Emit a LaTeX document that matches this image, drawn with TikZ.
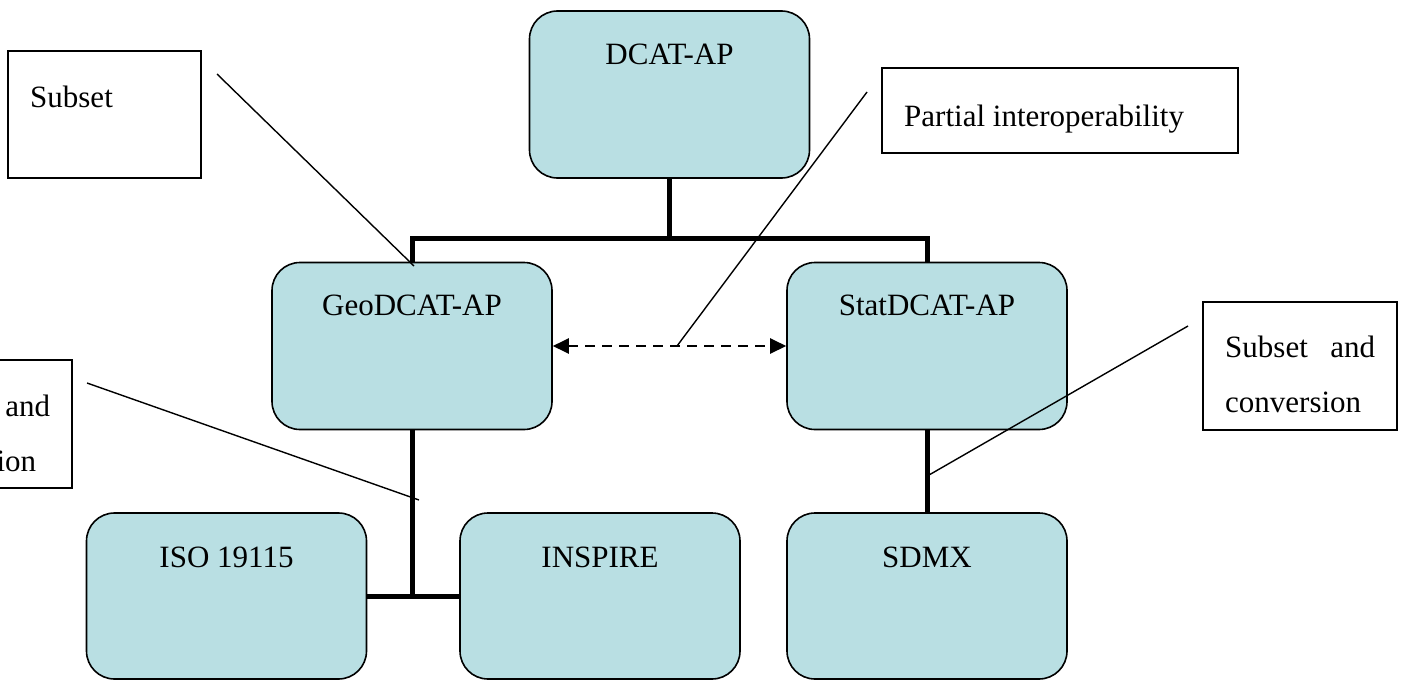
\documentclass[tikz,border=0pt]{standalone}
\usepackage{fontspec}
\setmainfont{Liberation Serif}
\usetikzlibrary{arrows.meta}
\definecolor{boxfill}{RGB}{185,223,227}
\begin{document}
\begin{tikzpicture}[x=1pt,y=-1pt,
  ent/.style={draw=black, line width=1.6pt, fill=boxfill, rounded corners=28pt, minimum width=280pt, minimum height=167pt, inner sep=0pt},
  lbl/.style={font=\fontsize{31}{36}\selectfont, inner sep=0pt, anchor=base},
  trunk/.style={line width=5pt},
  note/.style={draw=black, line width=1.6pt, fill=white, inner sep=0pt},
  notetext/.style={font=\fontsize{31}{55}\selectfont, text width=150pt, align=justify, inner sep=0pt, anchor=north west},
  callout/.style={line width=1.4pt},
  biarrow/.style={line width=2.4pt, dash pattern=on 10pt off 7pt, {Triangle[length=16pt,width=15pt]}-{Triangle[length=16pt,width=15pt]}}
  ]
\useasboundingbox (0,0) rectangle (1403,680);
\clip (0,0) rectangle (1403,680);

% entity boxes
\node[ent] (dcat) at (669.5,94.5) {};
\node[ent] (geo) at (412,346) {};
\node[ent] (stat) at (927,346) {};
\node[ent, minimum height=166pt] (iso) at (226.5,596) {};
\node[ent, minimum height=166pt] (inspire) at (600,596) {};
\node[ent, minimum height=166pt] (sdmx) at (927,596) {};

\node[lbl] (tdcat) at (669.5,64) {DCAT-AP};
\node[lbl] (tgeo) at (412,315) {GeoDCAT-AP};
\node[lbl] (tstat) at (927,315) {StatDCAT-AP};
\node[lbl] (tiso) at (226.5,567) {ISO 19115};
\node[lbl] (tinspire) at (600,567) {INSPIRE};
\node[lbl] (tsdmx) at (927,567) {SDMX};

% tree connectors
\coordinate (bar) at (669.5,238);
\draw[trunk] (dcat.south) -- (bar);
\draw[trunk] (geo.north) -- (geo.north |- bar) -- (stat.north |- bar) -- (stat.north);
\draw[trunk] (geo.south) -- (geo.south |- iso.east);
\draw[trunk] (iso.east) -- (inspire.west);
\draw[trunk] (stat.south) -- (sdmx.north);
\draw[biarrow] (geo.east) -- (stat.west);

% note boxes
\node[note, minimum width=193pt, minimum height=127pt] (subsetbox) at (104.5,114.5) {};
\node[lbl, anchor=base west] (tsubset) at (30,107) {Subset};
\node[note, minimum width=356pt, minimum height=85pt] (partialbox) at (1060,110.5) {};
\node[lbl, anchor=base west] (tpartial) at (904,126) {Partial interoperability};
\node[note, minimum width=194pt, minimum height=128pt] (convR) at (1300,366) {};
\node[notetext] (tconvR) at (1225,336) {Subset and conversion};
\node[note, minimum width=194pt, minimum height=128pt] (convL) at (-25,424) {};
\node[notetext] (tconvL) at (-100,395) {Subset and conversion};

% callout lines
\coordinate (cs1) at (217,74);
\coordinate (cs2) at (414,266);
\coordinate (cp1) at (867,92);
\coordinate (cp2) at (677,346);
\coordinate (cr1) at (1188,326);
\coordinate (cr2) at (929,475);
\coordinate (cl1) at (87,383);
\coordinate (cl2) at (419,500);
\draw[callout] (cs1) -- (cs2);
\draw[callout] (cp1) -- (cp2);
\draw[callout] (cr1) -- (cr2);
\draw[callout] (cl1) -- (cl2);
\end{tikzpicture}
\end{document}
